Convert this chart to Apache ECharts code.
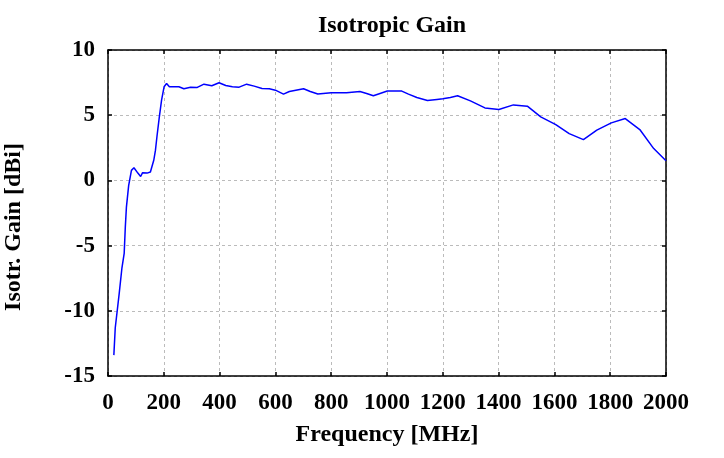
<!DOCTYPE html>
<html>
<head>
<meta charset="utf-8">
<script src="https://cdn.jsdelivr.net/npm/echarts@6/dist/echarts.min.js"></script>
<style>
  html, body { margin: 0; padding: 0; background: #fff; }
  #chart { width: 724px; height: 458px; }
</style>
</head>
<body>
<div id="chart"></div>
<script>
// frequency points [MHz]
var freq = [21, 26, 40, 50, 58, 62, 66, 74, 84, 93, 107, 117, 124, 140, 152, 158, 164, 170,
  176, 184, 192, 201, 210, 220, 254, 272, 296, 320, 344, 372, 398, 422, 446, 470, 497,
  524, 552, 578, 600, 629, 650, 701, 725, 752, 800, 855, 903, 927, 951, 975, 1001, 1053,
  1077, 1107, 1145, 1179, 1200, 1227, 1253, 1299, 1351, 1401, 1453, 1503, 1551, 1605,
  1653, 1704, 1752, 1804, 1854, 1906, 1956, 2000];
// isotropic gain [dBi]
var gain = [-13.4, -11.3, -8.7, -6.7, -5.6, -3.6, -2.05, -0.4, 0.77, 0.97, 0.56, 0.3, 0.59, 0.56, 0.64, 0.77, 1.54, 2.3,
  3.46, 4.87, 6.15, 7.18, 7.43, 7.18, 7.18, 7.03, 7.15, 7.13, 7.38, 7.26, 7.49, 7.28, 7.18, 7.15, 7.38,
  7.23, 7.05, 7.03, 6.92, 6.62, 6.82, 7.03, 6.82, 6.62, 6.72, 6.72, 6.82, 6.67, 6.49, 6.67, 6.85, 6.85,
  6.62, 6.36, 6.13, 6.21, 6.26, 6.36, 6.49, 6.1, 5.56, 5.44, 5.79, 5.69, 4.87, 4.28,
  3.59, 3.13, 3.85, 4.41, 4.74, 3.9, 2.44, 1.5];

var FONT = '"Liberation Serif", "Times New Roman", serif';

var points = [];
for (var i = 0; i < freq.length; i++) {
  points.push([freq[i], gain[i]]);
}

function frameAxis(pos, type) {
  var ax = {
    type: 'value',
    position: pos,
    axisLine: { show: true, onZero: false, lineStyle: { color: '#000', width: 1.5 } },
    axisTick: { show: true, inside: true, length: 4, lineStyle: { color: '#000', width: 1.5 } },
    axisLabel: { show: false },
    splitLine: { show: false }
  };
  if (type == 'x') {
    ax.min = 0; ax.max = 2000; ax.interval = 200;
  } else {
    ax.min = -15; ax.max = 10; ax.interval = 5;
  }
  return ax;
}

var xMain = frameAxis('bottom', 'x');
xMain.name = 'Frequency [MHz]';
xMain.nameLocation = 'middle';
xMain.nameGap = 47;
xMain.nameTextStyle = { fontFamily: FONT, fontWeight: 'bold', fontSize: 24, color: '#000' };
xMain.axisLabel = {
  show: true, fontFamily: FONT, fontWeight: 'bold', fontSize: 23, color: '#000', margin: 16,
  formatter: function(v) { return String(v); }
};
xMain.splitLine = { show: true, lineStyle: { color: '#bbb', type: [3, 3], width: 1 } };

var yMain = frameAxis('left', 'y');
yMain.axisLabel = { show: true, fontFamily: FONT, fontWeight: 'bold', fontSize: 23, color: '#000', margin: 13 };
yMain.splitLine = { show: true, lineStyle: { color: '#bbb', type: [3, 3], width: 1 } };

var myChart = echarts.init(document.getElementById('chart'));
myChart.setOption({
  animation: false,
  backgroundColor: '#fff',
  title: {
    text: 'Isotropic Gain',
    left: 387,
    textAlign: 'center',
    top: 9,
    textStyle: { fontFamily: FONT, fontWeight: 'bold', fontSize: 24, color: '#000' }
  },
  graphic: [{
    type: 'text',
    x: 14,
    y: 227,
    rotation: Math.PI / 2,
    style: {
      text: 'Isotr. Gain [dBi]',
      font: 'bold 24px ' + FONT,
      fill: '#000',
      align: 'center',
      verticalAlign: 'middle'
    }
  }],
  grid: { left: 108, right: 58, top: 50, bottom: 82, containLabel: false, outerBoundsMode: 'none' },
  xAxis: [xMain, frameAxis('top', 'x')],
  yAxis: [yMain, frameAxis('right', 'y')],
  series: [{
    type: 'line',
    xAxisIndex: 0,
    yAxisIndex: 0,
    data: points,
    showSymbol: false,
    lineStyle: { color: '#0000ff', width: 1.5 },
    z: 5
  }]
});
</script>
</body>
</html>
